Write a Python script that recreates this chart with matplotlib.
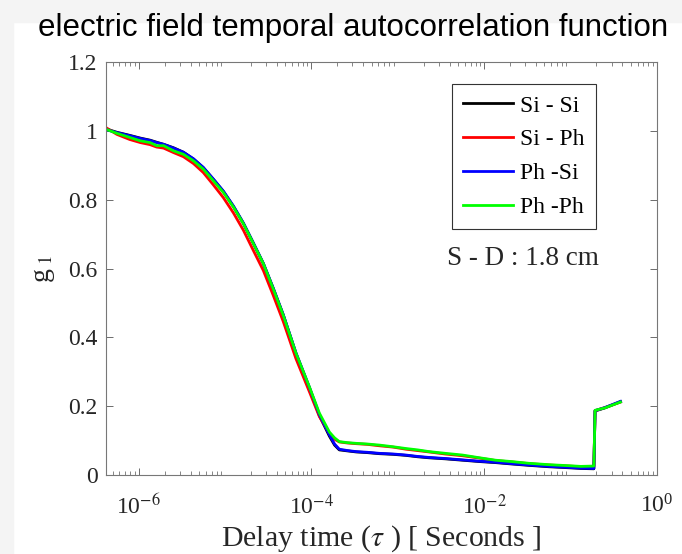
import matplotlib
matplotlib.use("Agg")
import matplotlib.pyplot as plt
from matplotlib.patches import Rectangle
from matplotlib.ticker import LogLocator, NullFormatter

# delay times (s) shared by all four curves
tau = [4.17e-7, 5.6e-7, 7.9e-7, 1.05e-6, 1.36e-6, 1.62e-6, 1.95e-6, 2.54e-6,
       3.31e-6, 4.33e-6, 5.62e-6, 7.36e-6, 9.6e-6, 1.26e-5, 1.64e-5, 2.14e-5,
       2.79e-5, 3.63e-5, 4.74e-5, 6.65e-5, 9.55e-5, 1.24e-4, 1.62e-4, 1.86e-4,
       2.11e-4, 2.63e-4, 3.31e-4, 4.47e-4, 6.11e-4, 8.9e-4, 1.245e-3, 1.7e-3,
       2.31e-3, 3.55e-3, 5.62e-3, 8.9e-3, 1.36e-2, 2.09e-2, 3.31e-2, 5.62e-2,
       9.6e-2, 1.32e-1, 1.87e-1, 1.93e-1, 2.51e-1, 3.8e-1]

g1_si_si = [1.006, 0.996, 0.987, 0.979, 0.973, 0.967, 0.961, 0.951,
            0.938, 0.918, 0.893, 0.859, 0.824, 0.780, 0.731, 0.673,
            0.614, 0.542, 0.465, 0.353, 0.252, 0.173, 0.113, 0.087,
            0.073, 0.070, 0.067, 0.065, 0.062, 0.060, 0.057, 0.053,
            0.050, 0.047, 0.043, 0.039, 0.036, 0.032, 0.028, 0.024,
            0.021, 0.019, 0.018, 0.186, 0.195, 0.213]
g1_si_ph = [1.010, 0.990, 0.975, 0.966, 0.960, 0.953, 0.950, 0.937,
            0.925, 0.905, 0.879, 0.843, 0.806, 0.761, 0.711, 0.652,
            0.594, 0.522, 0.446, 0.338, 0.241, 0.170, 0.120, 0.104,
            0.096, 0.093, 0.091, 0.089, 0.085, 0.081, 0.075, 0.071,
            0.067, 0.061, 0.056, 0.049, 0.042, 0.038, 0.033, 0.029,
            0.026, 0.024, 0.025, 0.187, 0.196, 0.212]
g1_ph_si = [1.004, 0.995, 0.986, 0.978, 0.972, 0.966, 0.961, 0.950,
            0.938, 0.919, 0.894, 0.860, 0.825, 0.781, 0.732, 0.674,
            0.615, 0.543, 0.466, 0.355, 0.254, 0.176, 0.117, 0.090,
            0.075, 0.071, 0.068, 0.066, 0.063, 0.061, 0.058, 0.054,
            0.051, 0.048, 0.044, 0.040, 0.037, 0.033, 0.029, 0.025,
            0.022, 0.020, 0.019, 0.187, 0.196, 0.214]
g1_ph_ph = [1.005, 0.993, 0.981, 0.971, 0.966, 0.957, 0.957, 0.942,
            0.932, 0.913, 0.889, 0.855, 0.821, 0.778, 0.730, 0.672,
            0.614, 0.541, 0.464, 0.354, 0.255, 0.180, 0.125, 0.108,
            0.097, 0.094, 0.092, 0.090, 0.087, 0.082, 0.077, 0.073,
            0.068, 0.063, 0.058, 0.050, 0.043, 0.039, 0.034, 0.030,
            0.027, 0.025, 0.026, 0.188, 0.195, 0.212]

labels = ["Si - Si", "Si - Ph", "Ph -Si", "Ph -Ph"]
series = [g1_si_si, g1_si_ph, g1_ph_si, g1_ph_ph]
colors = ["#000000", "#ff0000", "#0000ff", "#00ff00"]

plt.rcParams["font.family"] = ["Liberation Serif", "DejaVu Serif"]
plt.rcParams["mathtext.fontset"] = "stix"

fig = plt.figure(figsize=(6.82, 5.54), dpi=100)
fig.patch.set_facecolor("white")
# slide-like grey margins
fig.patches.append(Rectangle((0, 0.960), 1, 0.040, transform=fig.transFigure,
                             color="#f4f4f4", zorder=-1))
fig.patches.append(Rectangle((0, 0), 0.019, 1, transform=fig.transFigure,
                             color="#f4f4f4", zorder=-1))

ax = fig.add_axes([0.155, 0.1426, 0.808, 0.7454])
for y, lbl, c in zip(series, labels, colors):
    ax.plot(tau, y, "-", color=c, lw=2, label=lbl)

ax.set_xscale("log")
ax.set_xlim(4.17e-7, 1)
ax.set_ylim(0, 1.2)
ax.set_yticks([0, 0.2, 0.4, 0.6, 0.8, 1, 1.2])
ax.set_yticklabels(["0", "0.2", "0.4", "0.6", "0.8", "1", "1.2"])
ax.xaxis.set_major_locator(LogLocator(base=10, subs=(1.0,), numticks=10))
ax.xaxis.set_minor_locator(LogLocator(base=10, subs=range(2, 10), numticks=20))
ax.xaxis.set_minor_formatter(NullFormatter())
ax.set_xticks([1e-6, 1e-4, 1e-2, 1])
ax.set_xticklabels([r"$\mathdefault{10^{\mathrm{-6}}}$",
                    r"$\mathdefault{10^{\mathrm{-4}}}$",
                    r"$\mathdefault{10^{\mathrm{-2}}}$",
                    r"$\mathdefault{10^{0}}$"])

ax.tick_params(which="both", direction="in", top=True, right=True,
               colors="#555555", labelcolor="#262626", labelsize=17)
ax.tick_params(which="major", length=5, width=0.6)
ax.tick_params(which="minor", length=3, width=0.5)
ax.tick_params(axis="x", pad=14)
ax.tick_params(axis="y", pad=6)
for s in ax.spines.values():
    s.set_color("#777777")
    s.set_linewidth(0.8)

ax.set_xlabel(r"Delay time ($\tau$ ) [ Seconds ]", fontsize=21.5,
              color="#262626", labelpad=3)
ax.set_ylabel(r"g$_{\ 1}$", fontsize=20, color="#262626", labelpad=8)

leg = ax.legend(loc="upper right", bbox_to_anchor=(0.889, 0.947), fontsize=17,
                handlelength=2.1, handletextpad=0.3, borderpad=0.47,
                labelspacing=0.52, fancybox=False, framealpha=1,
                borderaxespad=0)
leg.get_frame().set_edgecolor("#333333")
leg.get_frame().set_linewidth(0.8)

ax.text(0.757, 0.525, "S - D : 1.8 cm", transform=ax.transAxes,
        ha="center", va="center", fontsize=19.5, color="#262626")

fig.text(0.518, 0.949, "electric field temporal autocorrelation function",
         ha="center", va="center", fontsize=22.5, family="Liberation Sans",
         color="#000000")

fig.savefig("out.png", dpi=100)
